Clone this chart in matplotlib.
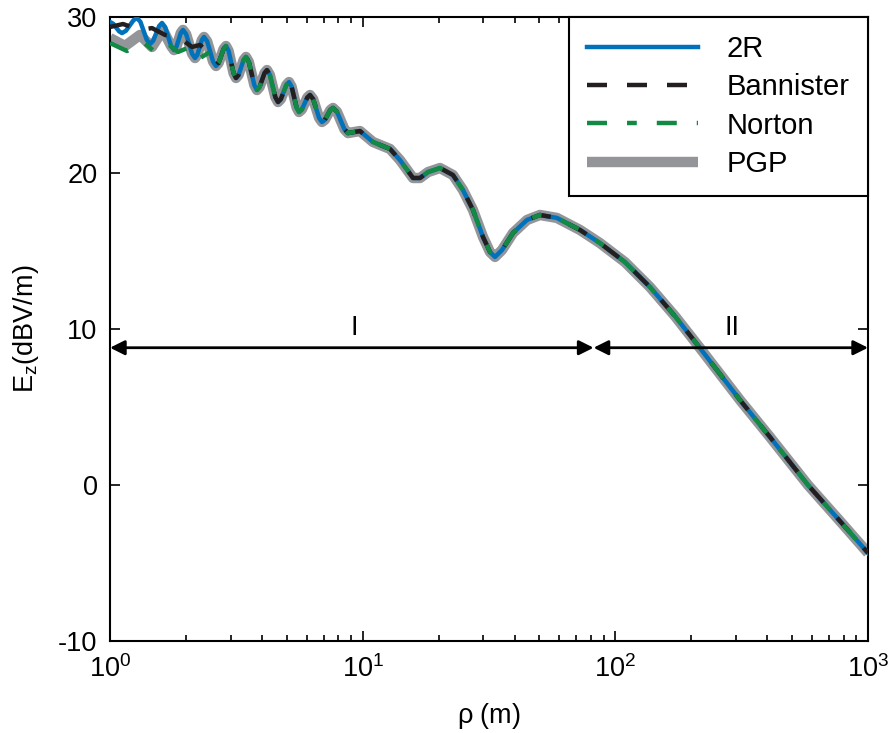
import matplotlib
matplotlib.use("Agg")
import matplotlib.pyplot as plt
import numpy as np

plt.rcParams['font.family'] = ['Liberation Sans', 'DejaVu Sans']
plt.rcParams['axes.unicode_minus'] = False

# shared part of all four curves (rho in m, Ez in dBV/m)
tail_rho = [2.6900, 2.8151, 2.8776, 2.9463, 3.0836, 3.1523, 3.2275, 3.3779, 3.4531,
            3.5439, 3.7255, 3.8163, 3.9075, 4.0899, 4.1811, 4.2915, 4.5122, 4.6226,
            4.7445, 4.9882, 5.1100, 5.2317, 5.4750, 5.5966, 5.7442, 6.0395, 6.1871,
            6.3660, 6.7237, 6.9025, 7.0844, 7.4481, 7.6300, 7.91, 8.47, 8.75,
            9.757, 10.98, 12.83, 14.05, 15.82, 16.86, 18.14, 20.23, 22.77, 24.94,
            27.33, 29.94, 31.89, 33.39, 35.58, 39.33, 44.70, 50.30, 58.74, 72.42,
            86.9, 109.1, 137.1, 172.1, 216.2, 311.3, 409.1, 578.6, 774.3, 1000]
tail_E = [27.05, 27.95, 28.14, 27.83, 26.40, 26.09, 26.29, 27.24, 27.44,
          27.12, 25.64, 25.32, 25.51, 26.41, 26.60, 26.29, 24.86, 24.55,
          24.74, 25.64, 25.83, 25.54, 24.20, 23.91, 24.07, 24.84, 25.00,
          24.74, 23.53, 23.27, 23.41, 24.04, 24.17, 23.93, 22.80, 22.56,
          22.69, 21.99, 21.54, 20.83, 19.68, 19.68, 20.06, 20.32, 19.87, 18.91,
          17.63, 15.90, 14.94, 14.62, 15.06, 16.15, 16.99, 17.31, 17.12, 16.35,
          15.51, 14.29, 12.69, 10.83, 8.78, 5.45, 3.08, 0.0, -2.31, -4.36]

# near-field parts where the models differ
rho_2r = [1.000, 1.029, 1.087, 1.1155, 1.1564, 1.2382, 1.2791, 1.3193, 1.3996, 1.4398,
          1.4814, 1.5645, 1.6061, 1.6525, 1.7452, 1.7915, 1.8298, 1.9065, 1.9448,
          2.0011, 2.1137, 2.1700, 2.2163, 2.3089, 2.3552, 2.4233, 2.5594, 2.6274]
E_2r = [29.68, 29.57, 29.08, 28.97, 29.12, 29.79, 29.94, 29.69, 28.52, 28.27,
        28.47, 29.42, 29.62, 29.36, 28.14, 27.88, 28.07, 28.98, 29.17,
        28.90, 27.64, 27.37, 27.57, 28.52, 28.72, 28.44, 27.14, 26.86]
rho_ban = [1.000, 1.1257, 1.3145, 1.4663, 1.6506, 1.8923, 2.1115, 2.2711, 2.5322]
E_ban = [29.36, 29.55, 29.17, 29.29, 28.85, 28.65, 28.08, 28.21, 27.50]
rho_nor = [1.000, 1.1675, 1.3510, 1.5070, 1.6962, 1.8580, 2.0733, 2.2711, 2.4876, 2.6274]
E_nor = [28.33, 27.82, 28.40, 27.76, 28.27, 27.76, 28.08, 27.37, 27.76, 26.86]
rho_pgp = [1.000, 1.1465, 1.3145, 1.4663, 1.6207, 1.7452, 1.7915, 1.8298, 1.9065, 1.9448,
           2.0011, 2.1137, 2.1700, 2.2163, 2.3089, 2.3552, 2.4233, 2.5594, 2.6274]
E_pgp = [28.65, 28.14, 28.85, 28.08, 29.17, 28.14, 27.88, 28.07, 28.98, 29.17,
         28.90, 27.64, 27.37, 27.57, 28.52, 28.72, 28.44, 27.14, 26.86]

region_x = [1, 82, 1000]
region_y = 8.8
region_labels = ['I', 'II']
region_label_x = [9.3, 290]

FS = 19.5


def full(r, e):
    return np.array(r + tail_rho), np.array(e + tail_E)


fig = plt.figure(figsize=(8.9, 7.33), dpi=100)
ax = fig.add_axes([0.1236, 0.1255, 0.8517, 0.8513])

x, y = full(rho_pgp, E_pgp)
ax.plot(x, y, color='#939598', lw=7.5, solid_joinstyle='round', solid_capstyle='butt', label='PGP', zorder=2)
x, y = full(rho_2r, E_2r)
ax.plot(x, y, color='#0072bc', lw=3.2, solid_joinstyle='round', label='2R', zorder=3)
x, y = full(rho_ban, E_ban)
ax.plot(x, y, color='#231f20', lw=3.2, dashes=(4.5, 4.5), label='Bannister', zorder=4)
x, y = full(rho_nor, E_nor)
ax.plot(x, y, color='#138a43', lw=3.2, dashes=(4.5, 4.5, 2.2, 4.5), label='Norton', zorder=5)

# region arrows
for i in range(2):
    ax.annotate('', xy=(region_x[i + 1], region_y), xytext=(region_x[i], region_y),
                arrowprops=dict(arrowstyle='<|-|>', color='black', lw=2,
                                mutation_scale=22, shrinkA=0, shrinkB=0), zorder=6)
    ax.text(region_label_x[i], region_y + 0.4, region_labels[i], ha='center', va='bottom', fontsize=FS)

ax.set_xscale('log')
ax.set_xlim(1, 1000)
ax.set_ylim(-10, 30)
ax.set_yticks([-10, 0, 10, 20, 30])
ax.tick_params(which='both', direction='in', top=True, right=True, labelsize=FS, width=1.2)
ax.tick_params(which='major', length=7)
ax.tick_params(which='minor', length=4)
ax.tick_params(axis='x', pad=10)
ax.tick_params(axis='y', pad=9)
for s in ax.spines.values():
    s.set_linewidth(1.5)

ax.set_xlabel(r'$\mathregular{\rho}$ (m)', fontsize=FS, labelpad=13)
ax.set_ylabel(r'E$_\mathregular{z}$(dBV/m)', fontsize=FS, labelpad=12)

h, l = ax.get_legend_handles_labels()
order = [l.index(n) for n in ['2R', 'Bannister', 'Norton', 'PGP']]
leg = ax.legend([h[i] for i in order], [l[i] for i in order], loc='upper right',
                borderaxespad=0, fontsize=21, handlelength=3.8, handletextpad=1.0,
                labelspacing=0.35, borderpad=0.62, fancybox=False, framealpha=1)
leg.get_frame().set_edgecolor('black')
leg.get_frame().set_linewidth(1.5)

fig.savefig('out.png', dpi=100)
